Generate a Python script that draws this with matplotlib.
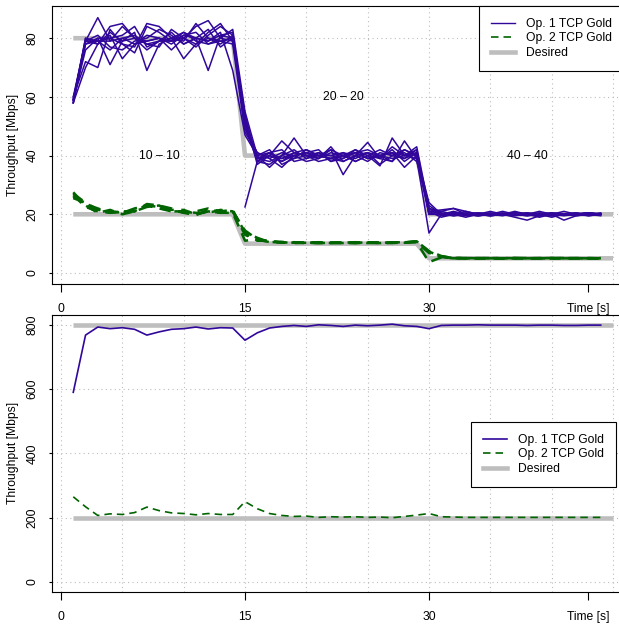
import numpy as np
import matplotlib
matplotlib.use("Agg")
import matplotlib.pyplot as plt
from matplotlib.lines import Line2D
from matplotlib.ticker import MultipleLocator

plt.rcParams['font.family'] = ['Liberation Sans', 'DejaVu Sans']
plt.rcParams['font.size'] = 8.7

NA = np.nan

## time axis (seconds), desired rates, tick labels
time = list(range(1, 45))
time_desired = list(range(1, 46))
x_ticks = [0, 15, 30, 43]
x_labels = ["0", "15", "30", "Time [s]"]

desired_op1_top = [80] * 14 + [40] * 15 + [20] * 16
desired_op2_top = [20] * 14 + [10] * 15 + [5] * 16
desired_op1_bot = [800] * 45
desired_op2_bot = [200] * 45

phase_labels = ["10 \u2013 10", "20 \u2013 20", "40 \u2013 40"]
phase_label_x = [8, 23, 38]
phase_label_y = [40, 60, 40]

## top panel: repeated runs, Op. 1 TCP Gold (Mbps)
op1_runs = [
    [59, 79, 87, 79, 80, 78, 81, 80, 79, 82, 80, 79, 81, 82,
     52, 39, 40, 38, 41, 40, 39, 41, 40, 42, 39, 40, 41, 39, 41,
     22, 20, 21, 20, 19.5, 20, 20.5, 20, 19.5, 20, 20.5, 20, 19.5, 20, 20],
    [58, 70, 78, 84, 85, 80, 76, 79, 82, 78, 80, 83, 77, 80,
     50, 38, 37, 40, 42, 39, 41, 38, 40, 39, 41, 40, 38, 42, 40,
     21, 19, 20, 20.5, 20, 19.5, 20, 21, 20, 19.5, 20, 20, 20.5, 19.5, 20],
    [60, 72, 70, 83, 78, 77, 85, 84, 80, 73, 78, 80, 79, 78,
     48, 41, 39, 36, 40, 41, 40, 39, 38, 40, 41, 37, 40, 39, 42,
     20, 21, 22, 21, 20, 19.5, 20, 20, 20.5, 20, 19, 20, 20, 20.5, 20],
    [59, 78, 80, 71, 79, 82, 69, 78, 80, 82, 79, 78, 80, 83,
     55, 40, 41, 42, 38, 39, 40, 42, 33.5, 40, 38, 41, 40, 41, 38,
     23, 20, 19.5, 20, 20.5, 20, 20, 19, 18, 19.5, 20, 20, 20, 20, 19.5],
    [58, 79, 79, 79, 84, 80, 79, 80, 76, 80, 84, 86, 80, 79,
     53, 37, 40, 45, 41, 42, 40, 39, 41, 40, 44.5, 39, 43, 40, 41,
     21, 21.5, 22, 20, 20.5, 20, 21, 20, 20, 20.5, 20, 20, 20, 20.5, 20],
    [59, 76, 80, 80, 78, 75, 84, 82, 79, 81, 80, 69, 81, 80,
     51, 39, 38, 40, 46, 40, 41, 40, 39, 42, 40, 36.5, 46, 40, 42,
     20, 20, 20.5, 19.5, 20, 21, 20, 20, 20.5, 19.5, 20, 21, 20, 20.5, 20],
    [60, 79, 81, 77, 76, 79, 80, 83, 81, 78, 80, 79, 82, 69,
     47, 40, 42, 37, 39, 40, 38, 39, 40, 41, 39, 40, 41, 36, 40,
     24, 20, 20, 19, 20, 20, 19.5, 20.5, 20, 20, 20, 18, 19.5, 20, 20.5],
    [58, 78, 79, 76, 80, 81, 78, 77, 83, 80, 77, 81, 84, 81,
     49, 41, 39, 41, 40, 38, 39, 42, 40, 38, 40, 39, 38, 45, 39,
     13.6, 20, 20.5, 20, 20, 19.5, 20, 20, 19.5, 20, 20.5, 20, 20, 19.5, 20],
    [59, 79, 78, 81, 73, 78, 79, 80, 78, 81, 82, 78, 79, 80,
     54, 38, 41, 39, 40, 41, 42, 38, 39, 41, 42, 40, 39, 40, 43,
     22, 21, 20, 20, 19.5, 20, 20, 20.5, 20, 20, 19.5, 20, 20.5, 20, 20],
    [58, 80, 79, 80, 81, 84, 77, 79, 80, 79, 85, 80, 78, 81,
     50, 40, 36, 40, 39, 42, 40, 40, 41, 38, 40, 42, 40, 42, 40,
     21, 20.5, 19.5, 20, 20, 20.5, 20, 19.5, 20, 21, 20, 19.5, 20, 20, 20],
    [NA, NA, NA, NA, NA, NA, NA, NA, NA, NA, NA, NA, NA, NA,
     22.5, 38, 40, 39, 41, 40, 40, 39, 40, 41, 39, 40, 41, 40, 39,
     20, 20, 20.5, 20, 19.5, 20, 20, 20.5, 20, 20, 19.5, 20, 20, 20.5, 20],
    [59, 80, 78, 82, 79, 80, 78, 79, 79, 80, 78, 82, 85, 79,
     52, 39, 41, 38, 40, 41, 39, 43, 38, 40, 41, 39, 42, 38, 41,
     22, 19.5, 20, 21, 20, 20, 20, 20, 20, 19, 20, 20, 20, 20, 20],
]

## top panel: repeated runs, Op. 2 TCP Gold (Mbps)
op2_runs = [
    [27, 24, 21, 21, 20.5, 21.5, 23, 22, 21, 21, 20, 21, 20.5, 21,
     14.5, 11.5, 10.5, 10.5, 10.2, 10.3, 10.2, 10.3, 10.2, 10.4, 10.3, 10.2, 10.4, 10.5, 10.8,
     7.3, 5.6, 5.1, 5, 5, 5.1, 5, 5, 5.1, 5, 5, 5.1, 5, 5, 5],
    [26, 23.5, 22, 20.5, 21, 21, 23.5, 23, 22, 20.5, 21, 22, 21, 21.5,
     13.5, 11, 11, 10.3, 10.5, 10.2, 10.5, 10.2, 10.3, 10.2, 10.5, 10.3, 10.2, 10.4, 10.6,
     6.8, 5.5, 5.2, 5, 5.1, 5, 5, 5.1, 5, 5, 5.1, 5, 5, 5.1, 5],
    [25.5, 24, 21.5, 21, 20.5, 22, 23, 22.5, 21.5, 21.5, 20, 21, 20.5, 20.5,
     11, 11.5, 10.8, 10.5, 10.3, 10.4, 10.2, 10.3, 10.4, 10.2, 10.3, 10.4, 10.3, 10.5, 10.5,
     3.7, 5.3, 5, 5.1, 5, 5, 5.1, 5, 5, 5, 5.1, 5, 5, 5, 5.1],
    [27.5, 23, 20.5, 21.5, 20, 21, 22.5, 23, 21, 21, 20.5, 20.5, 21.5, 21,
     14, 12, 10.5, 10.6, 10.3, 10.3, 10.4, 10.2, 10.3, 10.5, 10.2, 10.3, 10.4, 10.3, 10.8,
     7.5, 5.8, 5.1, 5, 5, 5.1, 5, 5, 5, 5.1, 5, 5, 5.1, 5, 5],
    [26.5, 22.5, 21, 20.5, 21, 21, 23, 22, 21.5, 20.5, 19.7, 21.5, 21, 21,
     13, 11.2, 10.7, 10.4, 10.4, 10.2, 10.3, 10.4, 10.2, 10.3, 10.4, 10.2, 10.3, 10.4, 10.6,
     7, 5.5, 5, 5.1, 5, 5, 5, 5.1, 5, 5, 5, 5.1, 5, 5, 5],
]

## bottom panel: single run (Mbps)
op1_bot = [590, 768, 793, 788, 791, 786, 768, 778, 786, 788,
           793, 787, 791, 790, 752, 775, 790, 795, 798, 795,
           800, 798, 795, 799, 797, 799, 802, 797, 795, 788,
           798, 799, 799, 800, 799, 799, 799, 798, 799, 799,
           798, 798, 799, 799]
op2_bot = [265, 234, 207, 212, 210, 216, 233, 222, 215, 213,
           209, 213, 210, 210, 250, 228, 213, 207, 204, 205,
           201, 203, 202, 203, 201, 202, 200, 204, 208, 213,
           203, 202, 201, 201, 201, 201, 201, 201, 201, 201,
           201, 201, 201, 201]

BLUE = "#31079b"
GREEN = "#006400"
GREY = "#bebebe"
GRID = "#bdbdbd"
DASH = (0, (4.5, 3))

W, H = 619, 627
fig = plt.figure(figsize=(W / 100, H / 100), dpi=100)


def add_axes_px(x0, y0, x1, y1):
	return fig.add_axes([x0 / W, 1 - y1 / H, (x1 - x0) / W, (y1 - y0) / H])


def style_axes(ax, ylim, yticks):
	ax.set_xlim(-0.734, 45.49)
	ax.set_ylim(*ylim)
	ax.set_xticks(x_ticks)
	ax.set_xticklabels(x_labels)
	ax.xaxis.set_minor_locator(MultipleLocator(5))
	ax.xaxis.remove_overlapping_locs = False
	ax.set_yticks(yticks)
	ax.grid(which="minor", axis="x", color=GRID, ls=(0, (1, 3)), lw=0.8)
	ax.grid(which="major", axis="y", color=GRID, ls=(0, (1, 3)), lw=0.8)
	ax.tick_params(axis="x", which="minor", length=0)
	ax.tick_params(axis="x", which="major", length=5.8, width=0.8, pad=8.0)
	ax.tick_params(axis="y", length=2.2, width=0.8, pad=7.5, labelrotation=90)
	for lab in ax.get_yticklabels():
		lab.set_va("center")
	ax.spines["right"].set_visible(False)
	for s in ("left", "top", "bottom"):
		ax.spines[s].set_linewidth(0.8)
	ax.set_axisbelow(True)


def legend(ax, x, y, lw_op1, lw_op2):
	handles = [Line2D([], [], color=BLUE, lw=lw_op1),
	           Line2D([], [], color=GREEN, lw=lw_op2, ls=DASH),
	           Line2D([], [], color=GREY, lw=3.3)]
	leg = ax.legend(handles, ["Op. 1 TCP Gold", "Op. 2 TCP Gold", "Desired"],
	                loc="upper left", bbox_to_anchor=(x, y), borderaxespad=0,
	                fancybox=False, framealpha=1, edgecolor="black",
	                handlelength=2.0, handletextpad=0.9, labelspacing=0.2,
	                borderpad=1.0)
	leg.get_frame().set_linewidth(0.8)


## top panel
ax1 = add_axes_px(52, 6, 619, 284)
style_axes(ax1, (-3.75, 90.97), [0, 20, 40, 60, 80])
ax1.plot(time_desired, desired_op1_top, color=GREY, lw=3.3, solid_capstyle="butt")
ax1.plot(time_desired, desired_op2_top, color=GREY, lw=3.3, solid_capstyle="butt")
for run in op1_runs:
	ax1.plot(time, run, color=BLUE, lw=1.1)
for run in op2_runs:
	ax1.plot(time, run, color=GREEN, lw=1.8, ls=DASH)
for lbl, tx, ty in zip(phase_labels, phase_label_x, phase_label_y):
	ax1.text(tx, ty, lbl, ha="center", va="center")
legend(ax1, (479 - 52) / 567, 1.0, 1.0, 1.2)

## bottom panel
ax2 = add_axes_px(52, 315, 619, 592)
style_axes(ax2, (-31.1, 830.5), [0, 200, 400, 600, 800])
ax2.plot(time_desired, desired_op1_bot, color=GREY, lw=3.3, solid_capstyle="butt")
ax2.plot(time_desired, desired_op2_bot, color=GREY, lw=3.3, solid_capstyle="butt")
ax2.plot(time, op1_bot, color=BLUE, lw=1.2)
ax2.plot(time, op2_bot, color=GREEN, lw=1.2, ls=DASH)
legend(ax2, (471 - 52) / 567, (592 - 422) / 277, 1.2, 1.2)

fig.text(13 / W, 1 - 145 / H, "Throughput [Mbps]", rotation=90, ha="center", va="center")
fig.text(13 / W, 1 - 453 / H, "Throughput [Mbps]", rotation=90, ha="center", va="center")

fig.savefig("out.png", dpi=100)
